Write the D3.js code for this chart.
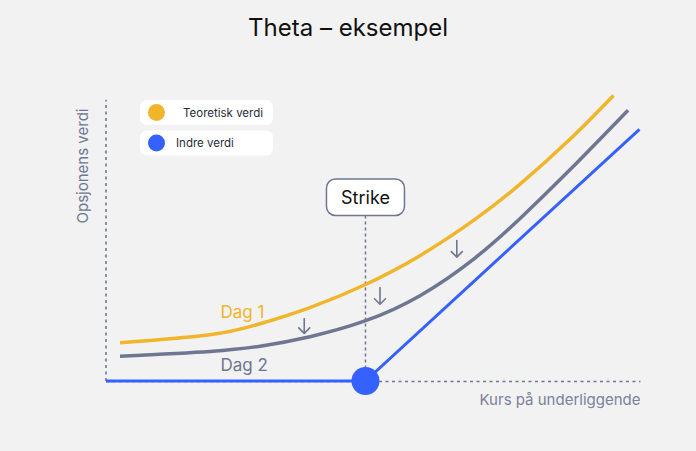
<!DOCTYPE html>
<html lang="no">
  <head>
    <meta charset="utf-8">
    <title>Theta – eksempel</title>
    <script src="https://d3js.org/d3.v7.min.js"></script>
    <style>
      body { margin: 0; background: #f2f2f2; }
      svg { display: block; font-family: Inter, "Noto Sans", sans-serif; }
    </style>
  </head>

  <body>
    <div id='chart'></div>

    <script type='text/javascript'>
      // values (price on x, option value on y)
      let strike = 50;
      let goldPrice = [2.7, 20, 29.7, 39.3, 49.9, 60.5, 71.1, 79.8, 89.4, 97.8];
      let goldValue = [8.0, 9.7, 12.0, 15.4, 20.2, 26.3, 33.9, 41.3, 50.7, 59.9];
      let grayPrice = [2.7, 20, 29.7, 39.3, 49.9, 60.5, 71.1, 79.8, 89.4, 100.6];
      let grayValue = [5.2, 6.2, 7.3, 9.3, 12.6, 17.9, 25.8, 34.1, 44.3, 56.8];
      let innerPrice = [0, 50, 102.8];
      let innerValue = [0, 0, 52.8];
      let arrowPrice = [38.2, 52.8, 67.6];
      let arrowTop = [13.2, 19.7, 29.6];
      let arrowBottom = [10.0, 16.1, 26.0];
      let legendLabels = ['Teoretisk verdi', 'Indre verdi'];

      let width = 696, height = 451;
      let gold = '#f0b52a', gray = '#6e7691', blue = '#3461ff', axisCol = '#6e7691';

      let svg = d3.select('#chart').append('svg')
        .attr('width', width)
        .attr('height', height)

      svg.append('rect').attr('width', width).attr('height', height).attr('fill', '#f2f2f2')

      let x = d3.scaleLinear().domain([0, 103]).range([106, 640.5])
      let y = d3.scaleLinear().domain([0, 60]).range([381, 95])

      // title
      svg.append('text')
        .attr('x', width / 2).attr('y', 36)
        .attr('text-anchor', 'middle')
        .attr('font-size', 24)
        .attr('fill', '#111')
        .text('Theta – eksempel')

      // dotted axes
      svg.append('line')
        .attr('x1', x(0)).attr('x2', x(0))
        .attr('y1', y(0)).attr('y2', y(59))
        .attr('stroke', axisCol).attr('stroke-width', 1.6)
        .attr('stroke-dasharray', '3,3.5')
      svg.append('line')
        .attr('x1', x(0)).attr('x2', x(103))
        .attr('y1', y(0) + 0.5).attr('y2', y(0) + 0.5)
        .attr('stroke', axisCol).attr('stroke-width', 1.6)
        .attr('stroke-dasharray', '3,3.5')

      svg.append('text')
        .attr('transform', 'translate(88,' + 166 + ') rotate(-90)')
        .attr('text-anchor', 'middle')
        .attr('font-size', 15)
        .attr('fill', '#6e7691')
        .text('Opsjonens verdi')

      svg.append('text')
        .attr('x', x(103)).attr('y', 405)
        .attr('text-anchor', 'end')
        .attr('font-size', 15)
        .attr('fill', '#7a819b')
        .text('Kurs på underliggende')

      // strike marker line + box
      svg.append('line')
        .attr('x1', x(strike)).attr('x2', x(strike))
        .attr('y1', 215.5).attr('y2', y(0))
        .attr('stroke', axisCol).attr('stroke-width', 1.5)
        .attr('stroke-dasharray', '3,3')

      let box = svg.append('g').attr('transform', 'translate(' + x(strike) + ',197)')
      box.append('rect')
        .attr('x', -39).attr('y', -18).attr('width', 78).attr('height', 36.5)
        .attr('rx', 9)
        .attr('fill', '#fff').attr('stroke', axisCol).attr('stroke-width', 1.5)
      box.append('text')
        .attr('y', 6.5)
        .attr('text-anchor', 'middle')
        .attr('font-size', 18)
        .attr('fill', '#111')
        .text('Strike')

      // curves
      let line = d3.line().x(d => x(d[0])).y(d => y(d[1])).curve(d3.curveNatural)
      let straight = d3.line().x(d => x(d[0])).y(d => y(d[1]))

      svg.append('path')
        .datum(d3.zip(goldPrice, goldValue))
        .attr('d', line)
        .attr('fill', 'none').attr('stroke', gold).attr('stroke-width', 3.5)

      svg.append('path')
        .datum(d3.zip(grayPrice, grayValue))
        .attr('d', line)
        .attr('fill', 'none').attr('stroke', gray).attr('stroke-width', 3.5)

      svg.append('path')
        .datum(d3.zip(innerPrice, innerValue))
        .attr('d', straight)
        .attr('fill', 'none').attr('stroke', blue).attr('stroke-width', 3)

      svg.append('circle')
        .attr('cx', x(strike)).attr('cy', y(0))
        .attr('r', 14)
        .attr('fill', blue)

      // down arrows (time decay)
      let arrows = svg.selectAll('.arrow')
        .data(d3.zip(arrowPrice, arrowTop, arrowBottom))
        .enter().append('g')
        .attr('class', 'arrow')
      arrows.append('line')
        .attr('x1', d => x(d[0])).attr('x2', d => x(d[0]))
        .attr('y1', d => y(d[1])).attr('y2', d => y(d[2]))
        .attr('stroke', gray).attr('stroke-width', 1.6)
      arrows.append('path')
        .attr('d', d => 'M' + (x(d[0]) - 5.5) + ',' + (y(d[2]) - 5.5) +
                        'L' + x(d[0]) + ',' + y(d[2]) +
                        'L' + (x(d[0]) + 5.5) + ',' + (y(d[2]) - 5.5))
        .attr('fill', 'none').attr('stroke', gray).attr('stroke-width', 1.6)
        .attr('stroke-linecap', 'round').attr('stroke-linejoin', 'round')

      // curve labels
      svg.append('text')
        .attr('x', 220.5).attr('y', 317.5)
        .attr('font-size', 17).attr('fill', gold)
        .text('Dag 1')
      svg.append('text')
        .attr('x', 220.5).attr('y', 371)
        .attr('font-size', 17).attr('fill', gray)
        .text('Dag 2')

      // legend
      let legend = svg.selectAll('.legend')
        .data(legendLabels)
        .enter().append('g')
        .attr('class', 'legend')
        .attr('transform', (d, i) => 'translate(140,' + (100 + i * 30.5) + ')')
      legend.append('rect')
        .attr('width', 133).attr('height', 25).attr('rx', 7)
        .attr('fill', '#fff')
      legend.append('circle')
        .attr('cx', 16.5).attr('cy', 12.5).attr('r', 8.5)
        .attr('fill', (d, i) => i == 0 ? gold : blue)
      legend.append('text')
        .attr('x', (d, i) => i == 0 ? 43 : 36)
        .attr('y', 16.5)
        .attr('font-size', 11.5)
        .attr('fill', '#2a2a38')
        .text(d => d)
    </script>
  </body>
</html>
